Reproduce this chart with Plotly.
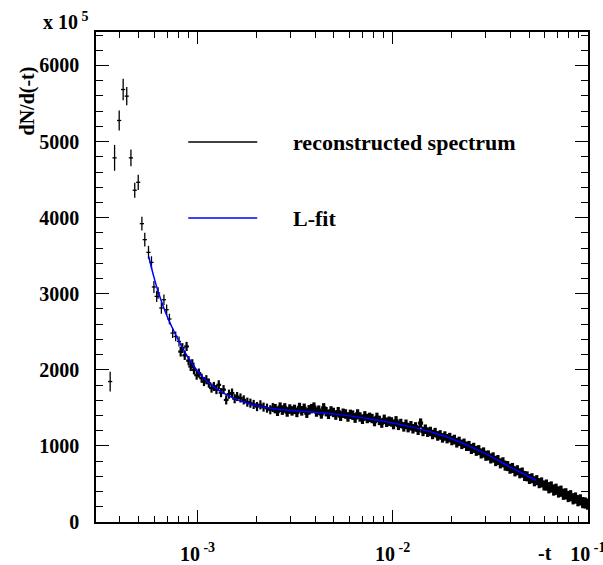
import plotly.graph_objects as go

# ---- data (y in units of 1e5) ----
T_LOW = [3.57e-4, 3.76e-4, 3.97e-4, 4.16e-4, 4.34e-4, 4.56e-4, 4.77e-4, 4.97e-4, 5.19e-4, 5.37e-4,
         5.61e-4, 5.81e-4, 5.98e-4, 6.18e-4, 6.28e-4, 6.53e-4, 6.73e-4, 6.95e-4, 7.18e-4, 7.46e-4,
         7.73e-4, 8.04e-4, 8.2e-4, 8.36e-4, 8.6e-4, 8.79e-4, 9.0e-4, 9.23e-4, 9.4e-4, 9.59e-4,
         9.9e-4, 1.016e-3, 1.05e-3, 1.079e-3, 1.11e-3, 1.143e-3, 1.18e-3, 1.213e-3, 1.25e-3, 1.285e-3,
         1.32e-3, 1.36e-3, 1.403e-3, 1.45e-3, 1.503e-3, 1.55e-3, 1.596e-3, 1.66e-3, 1.726e-3, 1.80e-3,
         1.866e-3, 1.94e-3, 2.018e-3, 2.10e-3, 2.18e-3, 2.27e-3, 2.36e-3, 2.43e-3]
Y_LOW = [1846, 4786, 5277, 5684, 5597, 4786, 4360, 4465, 3921, 3711,
         3544, 3412, 3089, 2965, 3010, 2812, 2921, 2790, 2668, 2483,
         2439, 2373, 2240, 2286, 2190, 2307, 2120, 2044, 2080, 2000,
         1930, 1957, 1890, 1846, 1870, 1825, 1760, 1781, 1740, 1803,
         1700, 1740, 1605, 1680, 1694, 1620, 1649, 1630, 1605, 1575,
         1562, 1545, 1517, 1540, 1510, 1496, 1475, 1505]
E_LOW = [130, 170, 130, 140, 120, 110, 100, 100, 90, 90,
         85, 80, 80, 75, 75, 75, 70, 70, 70, 65,
         65, 65, 65, 65, 60, 60, 60, 60, 60, 60,
         60, 60, 60, 60, 60, 60, 60, 60, 60, 60,
         60, 60, 60, 60, 60, 60, 60, 60, 60, 60,
         60, 60, 60, 60, 60, 60, 60, 60]
N_SPARSE = 22  # first points drawn as isolated thin crosses

T_BAND = [0.00250, 0.00257, 0.00265, 0.00272, 0.00280, 0.00288, 0.00297, 0.00305,
          0.00314, 0.00323, 0.00333, 0.00342, 0.00352, 0.00363, 0.00373, 0.00384,
          0.00395, 0.00407, 0.00418, 0.00431, 0.00443, 0.00456, 0.00469, 0.00483,
          0.00497, 0.00511, 0.00526, 0.00541, 0.00557, 0.00573, 0.00590, 0.00607,
          0.00624, 0.00642, 0.00661, 0.00680, 0.00700, 0.00720, 0.00741, 0.00762,
          0.00784, 0.00807, 0.00830, 0.00854, 0.00879, 0.00905, 0.00931, 0.00958,
          0.00986, 0.0101, 0.0104, 0.0107, 0.0110, 0.0114, 0.0117, 0.0120,
          0.0124, 0.0127, 0.0131, 0.0135, 0.0139, 0.0143, 0.0147, 0.0151,
          0.0156, 0.0160, 0.0165, 0.0170, 0.0175, 0.0180, 0.0185, 0.0190,
          0.0196, 0.0201, 0.0207, 0.0213, 0.0219, 0.0226, 0.0232, 0.0239,
          0.0246, 0.0253, 0.0260, 0.0268, 0.0276, 0.0284, 0.0292, 0.0300,
          0.0309, 0.0318, 0.0327, 0.0337, 0.0346, 0.0356, 0.0367, 0.0377,
          0.0388, 0.0399, 0.0411, 0.0423, 0.0435, 0.0448, 0.0461, 0.0474,
          0.0488, 0.0502, 0.0517, 0.0532, 0.0547, 0.0563, 0.0579, 0.0596,
          0.0613, 0.0631, 0.0649, 0.0668, 0.0687, 0.0707, 0.0728, 0.0749,
          0.0771, 0.0793, 0.0816, 0.0840, 0.0864, 0.0889, 0.0915, 0.0941,
          0.0969, 0.0997]
Y_BAND = [1490, 1455, 1510, 1470, 1500, 1445, 1485, 1460,
          1480, 1440, 1505, 1460, 1495, 1430, 1475, 1490,
          1510, 1445, 1470, 1420, 1500, 1450, 1415, 1460,
          1440, 1405, 1450, 1390, 1430, 1420, 1380, 1415,
          1405, 1365, 1420, 1380, 1350, 1395, 1360, 1375,
          1360, 1320, 1375, 1335, 1300, 1350, 1310, 1325,
          1315, 1280, 1330, 1270, 1295, 1250, 1285, 1240,
          1265, 1225, 1250, 1205, 1300, 1190, 1220, 1180,
          1190, 1150, 1175, 1130, 1145, 1105, 1130, 1095,
          1110, 1070, 1085, 1040, 1060, 1020, 1035, 995,
          1000, 960, 975, 935, 945, 900, 915, 870,
          875, 835, 850, 800, 815, 770, 785, 740,
          735, 700, 710, 665, 680, 640, 650, 605,
          600, 565, 575, 535, 550, 510, 520, 480,
          485, 450, 460, 420, 430, 395, 405, 365,
          370, 335, 345, 305, 315, 280, 290, 255,
          250, 235]
E_BAND = [62] * 80 + [66] * 32 + [74] * 18

FIT_T = [5.623e-4, 5.957e-4, 6.310e-4, 6.683e-4, 7.079e-4, 7.499e-4, 7.943e-4, 8.414e-4,
         8.913e-4, 9.441e-4, 1.0e-3, 1.0593e-3, 1.122e-3, 1.259e-3, 1.413e-3, 1.585e-3,
         1.778e-3, 1.995e-3, 2.239e-3, 2.512e-3, 3.162e-3, 3.981e-3, 5.012e-3, 6.310e-3,
         7.943e-3, 1.0e-2, 1.259e-2, 1.585e-2, 1.995e-2, 2.512e-2, 3.162e-2, 3.981e-2,
         5.012e-2, 5.433e-2]
FIT_Y = [3490, 3235, 3015, 2830, 2670, 2530, 2400, 2280,
         2170, 2070, 1985, 1910, 1845, 1745, 1670, 1612,
         1567, 1532, 1505, 1485, 1462, 1443, 1420, 1388,
         1348, 1302, 1247, 1180, 1097, 988, 865, 725,
         592, 548]

X_MAJOR = [1e-3, 1e-2, 1e-1]
X_MAJOR_TEXT = ["10<sup>\u00a0-3</sup>", "10<sup>\u00a0-2</sup>", "10<sup>\u00a0-1</sup>"]
X_MINOR = [3e-4, 4e-4, 5e-4, 6e-4, 7e-4, 8e-4, 9e-4,
           2e-3, 3e-3, 4e-3, 5e-3, 6e-3, 7e-3, 8e-3, 9e-3,
           2e-2, 3e-2, 4e-2, 5e-2, 6e-2, 7e-2, 8e-2, 9e-2]

LEGEND_LABELS = ["reconstructed spectrum", "L-fit"]
LEGEND_COLORS = ["black", "blue"]

FONT = "Liberation Serif, Times New Roman, serif"


def points(xs, ys, es, thick, xpct):
    return go.Scatter(
        x=xs, y=ys, mode="markers", marker=dict(size=1, color="black"),
        error_y=dict(type="data", array=es, width=0, thickness=thick, color="black"),
        error_x=dict(type="percent", value=xpct, width=0, thickness=thick, color="black"),
        showlegend=False, hoverinfo="skip")


fig = go.Figure()
fig.add_trace(points(T_LOW[:N_SPARSE], Y_LOW[:N_SPARSE], E_LOW[:N_SPARSE], 1.3, 2.5))
fig.add_trace(points(T_LOW[N_SPARSE:], Y_LOW[N_SPARSE:], E_LOW[N_SPARSE:], 2.2, 2.8))
fig.add_trace(points(T_BAND, Y_BAND, E_BAND, 3.2, 3.0))
fig.add_trace(go.Scatter(
    x=FIT_T, y=FIT_Y, mode="lines", line=dict(color="blue", width=1.5, shape="spline", smoothing=0.6),
    showlegend=False, hoverinfo="skip"))

tickfont = dict(family=FONT, size=20, color="black", weight="bold")

fig.update_layout(
    width=603, height=565,
    margin=dict(l=96, r=15, t=32, b=43, autoexpand=False),
    paper_bgcolor="white", plot_bgcolor="white",
    showlegend=False,
    xaxis=dict(
        type="log", range=[-3.52, -0.9995], automargin=False,
        tickmode="array", tickvals=X_MAJOR, ticktext=X_MAJOR_TEXT,
        ticks="inside", ticklen=12, tickwidth=1.3, tickcolor="black",
        showline=True, linecolor="black", linewidth=1.5, mirror="allticks",
        showgrid=False, zeroline=False, ticklabeloverflow="allow",
        minor=dict(tickmode="array", tickvals=X_MINOR, ticks="inside", ticklen=6,
                   tickwidth=1.3, tickcolor="black", showgrid=False),
        tickfont=tickfont, ticklabelstandoff=13),
    yaxis=dict(
        range=[0, 6440], tick0=0, dtick=1000, automargin=False,
        ticks="inside", ticklen=13, tickwidth=1.3, tickcolor="black",
        showline=True, linecolor="black", linewidth=1.5, mirror="allticks",
        showgrid=False, zeroline=False,
        minor=dict(tick0=0, dtick=200, ticks="inside", ticklen=7,
                   tickwidth=1.3, tickcolor="black", showgrid=False),
        tickfont=tickfont, ticklabelstandoff=11),
)

ann_font = dict(family=FONT, size=20, color="black", weight="bold")
fig.add_annotation(text="dN/d(-t)", textangle=-90, xref="paper", yref="paper",
                   x=-0.14, y=0.933, xanchor="center", yanchor="top", showarrow=False, font=ann_font)
fig.add_annotation(text="x 10<sup> 5</sup>", xref="paper", yref="paper",
                   x=-0.112, y=1.022, xanchor="left", yanchor="middle", showarrow=False, font=ann_font)
fig.add_annotation(text="-t", xref="paper", yref="paper",
                   x=0.912, y=-0.064, xanchor="center", yanchor="middle", showarrow=False,
                   font=ann_font, borderpad=0)

leg_y = [0.7755, 0.6204]
for lab, col, yy in zip(LEGEND_LABELS, LEGEND_COLORS, leg_y):
    fig.add_shape(type="line", xref="paper", yref="paper", x0=0.1875, x1=0.3277, y0=yy, y1=yy,
                  line=dict(color=col, width=1.5))
    fig.add_annotation(text=lab, xref="paper", yref="paper", x=0.3968, y=yy,
                       xanchor="left", yanchor="middle", showarrow=False,
                       font=dict(family=FONT, size=22, color="black", weight="bold"))

fig.write_html("out.html", config={"displayModeBar": False},
               post_script="document.body.style.margin='0';document.body.style.overflow='hidden';")
